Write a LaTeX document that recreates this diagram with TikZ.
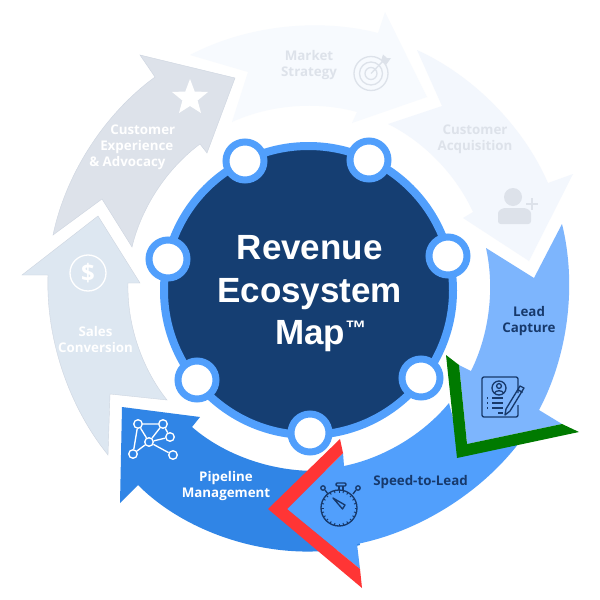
\documentclass[tikz,border=0pt]{standalone}
\usepackage{fontspec}
\usetikzlibrary{calc}
\setmainfont{Liberation Sans}
\newfontfamily\lblfont{Open Sans}
\definecolor{cExp}{HTML}{DDE2EA}
\definecolor{cSales}{HTML}{DDE7F1}
\definecolor{cPipe}{HTML}{3085E6}
\definecolor{cSpeed}{HTML}{519FFC}
\definecolor{cLead}{HTML}{7DB5FD}
\definecolor{cAcq}{HTML}{F3F7FD}
\definecolor{cMkt}{HTML}{F7FAFE}
\definecolor{cHub}{HTML}{153E72}
\definecolor{cRing}{HTML}{519FFC}
\definecolor{cInk}{HTML}{17396B}
\definecolor{cGrayTxt}{HTML}{DDE2EA}
\definecolor{cEdge}{HTML}{CDD5E0}
\definecolor{cRed}{HTML}{FF3535}
\definecolor{cGreen}{HTML}{007A00}
\tikzset{
  px/.style={x=.75pt,y=-.75pt},
  oa/.style={bend left=#1,looseness=.85},
  ia/.style={bend right=#1,looseness=.85},
  lbl/.style={font=\lblfont\bfseries\fontsize{10pt}{12pt}\selectfont,align=center,inner sep=0pt},
  dotn/.style={circle,draw=cRing,fill=white,line width=5.25pt,minimum size=28.5pt,inner sep=0pt},
  netn/.style={circle,draw=white,fill=cPipe,line width=1pt,minimum size=6.4pt,inner sep=0pt},
  netl/.style={draw=white,line width=1pt},
  ink/.style={draw=cInk,line width=1pt},
  ghost/.style={draw=cExp,line width=1pt}
}
\begin{document}
\begin{tikzpicture}[px]
\useasboundingbox (0,0) rectangle (600,600);
\fill[white] (0,0) rectangle (600,600);
% pale arrows
\fill[cMkt] (190,55) to[oa=21] (378,33) -- (385,12) -- (427,97) -- (352,123) -- (357,112) to[ia=20] (232,122) -- (248,72) -- cycle;
\fill[cAcq] (417,50) to[oa=21] (548,183) -- (573,174) -- (529,261) -- (463,218) -- (473,212) to[ia=19.5] (388,124) -- (442,106) -- cycle;
\filldraw[fill=cExp,draw=cEdge,line width=.3pt] (53,235) to[oa=21] (155,77) -- (140,55) -- (235,78) -- (207,153) -- (200,144) to[ia=20] (132,247) -- (102,199) -- cycle;
\filldraw[fill=cSales,draw=cEdge,line width=.3pt] (108,455) to[oa=20.5] (48,275) -- (22,275) -- (98,216) -- (140,283) -- (128,283) to[ia=20] (167,400) -- (110,394) -- cycle;
% saturated arrows
\fill[cPipe] (122,407) -- (200,417) -- (192,427) to[ia=26] (345,468) -- (360,545) to[oa=30] (138,485) -- (120,503) -- cycle;
\fill[cSpeed] (343,453) -- (344,466) to[ia=19.5] (449,403) -- (460,445) -- (519,443) to[oa=20.5] (357,544) -- (360,569) -- (287,509) -- cycle;
\fill[cRed] (340,439) -- (268,509) -- (362,588) -- (360,569) -- (287,509) -- (343,453) -- cycle;
\fill[cLead] (486,248) -- (534,278) -- (562,224) to[oa=21] (539,410) -- (562,424) -- (467,444) -- (459,365) -- (471,371) to[ia=19.5] (486,248) -- cycle;
\fill[cGreen] (446,355) -- (457,458) -- (579,432) -- (562,424) -- (467,444) -- (459,365) -- cycle;
% hub
\node[circle,fill=cHub,draw=cRing,line width=6pt,minimum size=216.75pt,inner sep=0pt] (hub) at (308.5,290.5) {};
\node[dotn] (d1) at (245,161) {};
\node[dotn] (d2) at (369,160) {};
\node[dotn] (d3) at (448,256) {};
\node[dotn] (d4) at (421,378) {};
\node[dotn] (d5) at (310,433) {};
\node[dotn] (d6) at (197,380) {};
\node[dotn] (d7) at (168,259) {};
\node[anchor=west,align=left,inner sep=0pt,text=white,font=\bfseries\fontsize{26.25pt}{31.9pt}\selectfont] (title) at (217,294)
  {\hspace*{14.6pt}Revenue\\Ecosystem\\\hspace*{43.5pt}Map\raisebox{7.3pt}{\fontsize{15.75pt}{15.75pt}\selectfont ™}};
% labels
\node[lbl,text=cGrayTxt] (tMkt) at (309,65.5) {Market\\Strategy};
\node[lbl,text=cGrayTxt] (tAcq) at (475,139) {Customer\\Acquisition};
\node[lbl,text=white,anchor=west,align=left] (tExp) at (89,147) {\hspace*{15.75pt}Customer\\\hspace*{8.25pt}Experience\\\& Advocacy};
\node[lbl,text=white] (tSales) at (95.5,339.5) {Sales\\Conversion};
\node[lbl,text=white] (tPipe) at (226,486) {Pipeline\\Management};
\node[lbl,text=cInk] (tLead) at (529,321) {Lead\\Capture};
\node[lbl,text=cInk] (tSpeed) at (420.5,482) {Speed-to-Lead};
% star
\fill[white] (190,79) -- (194.7,91.5) -- (208,92) -- (197.6,100.5) -- (201,113) -- (190,106) -- (179,113) -- (182.4,100.5) -- (172,92) -- (185.3,91.5) -- cycle;
% dollar
\node[circle,draw=white,line width=1pt,minimum size=27pt,inner sep=0pt,text=white,font=\lblfont\bfseries\fontsize{18pt}{18pt}\selectfont] (dollar) at (88,273) {\$};
% target
\draw[ghost] (371,73.5) circle[radius=17] (371,73.5) circle[radius=11.5] (371,73.5) circle[radius=6];
\draw[ghost] (371,73.5) -- (385,59);
\fill[cExp] (383,54.5) -- (387,58) -- (391,58) -- (386,65) -- (381,61) -- cycle;
% person
\fill[cExp] (513,197) circle[radius=9];
\fill[cExp,rounded corners=2pt] (498,224) -- (498,216) .. controls (498,210) and (503,208) .. (508,208) -- (521,208) .. controls (527,208) and (531,211) .. (531,216) -- (531,224) -- cycle;
\draw[cExp,line width=1.9pt] (526,204) -- (538,204) (532,198) -- (532,210);
% network
\node[netn] (na) at (138,424) {};
\node[netn] (nb) at (163,424) {};
\node[netn] (nc) at (170,437) {};
\node[netn] (nd) at (149,442) {};
\node[netn] (ne) at (133,454) {};
\node[netn] (nf) at (173,455) {};
\draw[netl] (na) -- (nb) (na) -- (nd) (na) -- (ne) (nb) -- (nc) (nb) -- (nd) (nc) -- (nd) (nd) -- (ne) (nd) -- (nf);
% document
\draw[ink,rounded corners=1.5pt] (518,393) -- (518,377) -- (482,377) -- (482,417) -- (518,417) -- (518,405);
\draw[ink] (499,388) circle[radius=7] (499,386) circle[radius=2.4];
\draw[ink] (494.5,393) .. controls (495.5,390) and (502.5,390) .. (503.5,393);
\draw[ink] (492,398) -- (503,398) (492,403) -- (503,403) (492,408) -- (503,408) (498,413) -- (503,413);
\draw[ink,densely dotted] (487,398) -- (489,398) (487,403) -- (489,403) (487,408) -- (489,408);
\draw[ink,line join=round] (524,388) -- (520,386) -- (506,409) -- (505,415) -- (510,411) -- cycle (518.5,390) -- (522.5,392.5);
% stopwatch
\draw[ink] (339,508) circle[radius=18];
\foreach \a in {0,15,...,345} \draw[cInk,line width=.7pt] ($(339,508)+(\a:15.5)$) -- ($(339,508)+(\a:18)$);
\draw[ink,rounded corners=.8pt] (336,483) rectangle (346,486);
\draw[ink] (339,486) -- (339,490) (343,486) -- (343,490);
\draw[ink] (323,488) circle[radius=2.2] (358,488) circle[radius=2.2];
\draw[ink] (325,490) -- (328,494) (356,490) -- (353,494);
\draw[ink,line join=round] (333,498) -- (345,505) -- (342.5,509) -- cycle;
\end{tikzpicture}
\end{document}
